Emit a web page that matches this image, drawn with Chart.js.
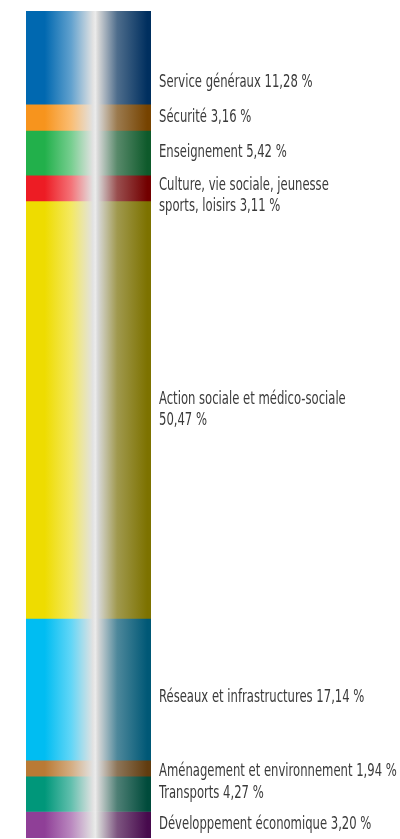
<!DOCTYPE html>
<html lang="fr">
<head>
<meta charset="utf-8">
<script src="https://cdn.jsdelivr.net/npm/chart.js@4"></script>
<style>
  html, body { margin: 0; padding: 0; background: #fff; }
  #wrap { width: 400px; height: 839px; }
</style>
</head>
<body>
<div id="wrap"><canvas id="budget"></canvas></div>
<script>
// budget shares by sector, top to bottom
const sectors = [
  "Service généraux",
  "Sécurité",
  "Enseignement",
  "Culture, vie sociale, jeunesse\nsports, loisirs",
  "Action sociale et médico-sociale\n",
  "Réseaux et infrastructures",
  "Aménagement et environnement",
  "Transports",
  "Développement économique"
];
const shares = [11.28, 3.16, 5.42, 3.11, 50.47, 17.14, 1.94, 4.27, 3.20];
const baseColors = ["#0068b0", "#f7941d", "#22b04b", "#ed1c24", "#eedc00", "#00bdf2", "#b97a35", "#00977a", "#8f3f97"];
const darkColors = ["#002f5f", "#764300", "#0e5a2b", "#720000", "#7d7200", "#005876", "#613c0f", "#004b3b", "#470a4d"];

(() => {
  var total = shares.reduce((a, b) => a + b, 0);

  // cylinder look: flat colour on the left, light streak, dark edge on the right
  function shade(i) {
    return function (context) {
      var area = context.chart.chartArea;
      if (!area) return baseColors[i];
      var g = context.chart.ctx.createLinearGradient(area.left, 0, area.right, 0);
      g.addColorStop(0, baseColors[i]);
      g.addColorStop(0.15, baseColors[i]);
      g.addColorStop(0.36, mix(baseColors[i], "#ffffff", 0.38));
      g.addColorStop(0.535, "#e2e2e2");
      g.addColorStop(0.555, "#ebebeb");
      g.addColorStop(0.575, "#d8d8d8");
      g.addColorStop(0.73, mix(darkColors[i], "#e0e0e0", 0.35));
      g.addColorStop(0.97, darkColors[i]);
      g.addColorStop(1, darkColors[i]);
      return g;
    };
  }

  function mix(a, b, t) {
    var pa = [1, 3, 5].map(k => parseInt(a.substr(k, 2), 16));
    var pb = [1, 3, 5].map(k => parseInt(b.substr(k, 2), 16));
    var c = pa.map((v, k) => Math.round(v + (pb[k] - v) * t));
    return "rgb(" + c.join(",") + ")";
  }

  var datasets = [];
  for (var i = 0; i < sectors.length; i++) {
    datasets.push({
      label: sectors[i],
      data: [shares[i]],
      backgroundColor: shade(i),
      borderWidth: 0,
      barPercentage: 1,
      categoryPercentage: 1
    });
  }

  // labels to the right of each segment, squeezed to a condensed width
  var labelNudge = { 0: 25, 3: 8, 5: 8, 6: 3 };
  var squeeze = 0.76;
  var sideLabels = {
    id: "sideLabels",
    afterDatasetsDraw(chart) {
      var ctx = chart.ctx;
      ctx.save();
      ctx.font = "17px 'DejaVu Sans Condensed', 'Liberation Sans Narrow', sans-serif";
      ctx.fillStyle = "#3a3a3a";
      ctx.textBaseline = "middle";
      ctx.textAlign = "left";
      var x = chart.chartArea.right + 8;
      ctx.translate(x, 0);
      ctx.scale(squeeze, 1);
      chart.data.datasets.forEach(function (ds, i) {
        var el = chart.getDatasetMeta(i).data[0];
        var lines = (ds.label + " " + shares[i].toFixed(2).replace(".", ",") + " %").split("\n").map(s => s.trim());
        var mid = (el.y + el.base) / 2 + (labelNudge[i] || 0);
        var lh = 21;
        lines.forEach(function (line, k) {
          ctx.fillText(line, 0, mid + (k - (lines.length - 1) / 2) * lh);
        });
      });
      ctx.restore();
    }
  };

  new Chart(document.getElementById("budget"), {
    type: "bar",
    data: { labels: [""], datasets: datasets },
    options: {
      responsive: true,
      maintainAspectRatio: false,
      animation: false,
      layout: { padding: { left: 26, right: 249, top: 11, bottom: 1 } },
      plugins: { legend: { display: false }, tooltip: { enabled: false } },
      scales: {
        x: { stacked: true, display: false },
        y: { stacked: true, display: false, reverse: true, min: 0, max: total }
      }
    },
    plugins: [sideLabels]
  });
})();
</script>
</body>
</html>
